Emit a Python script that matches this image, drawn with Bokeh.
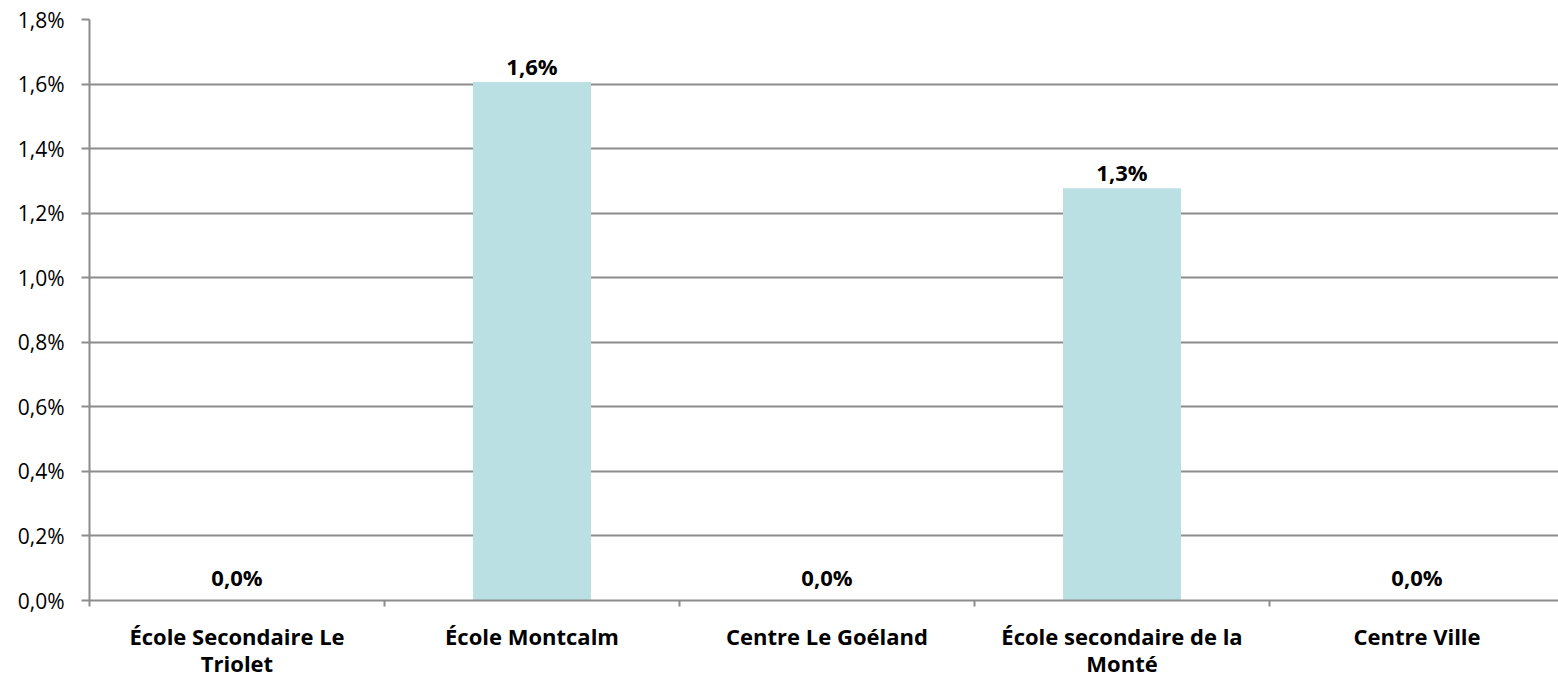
from bokeh.plotting import figure
from bokeh.models import ColumnDataSource, FixedTicker, CustomJSTickFormatter, Range1d, LinearAxis
from bokeh.embed import file_html
from bokeh.resources import INLINE
from bokeh.core.properties import value

categories = ["École Secondaire Le\nTriolet", "École Montcalm", "Centre Le Goéland",
              "École secondaire de la\nMonté", "Centre Ville"]
values_pct = [0.0, 1.606, 0.0, 1.277, 0.0]
y_ticks = [0.0, 0.2, 0.4, 0.6, 0.8, 1.0, 1.2, 1.4, 1.6, 1.8]

FONT = "Open Sans"
GRID = "#8c8c8c"

n = len(categories)
centers = [i + 0.5 for i in range(n)]
labels = [("%.1f" % v).replace(".", ",") + "%" for v in values_pct]

src = ColumnDataSource(dict(x=centers, top=values_pct))
pos = [i for i, v in enumerate(values_pct) if v > 0]
zer = [i for i, v in enumerate(values_pct) if v <= 0]
src_pos = ColumnDataSource(dict(x=[centers[i] for i in pos], y=[values_pct[i] for i in pos],
                                lab=[labels[i] for i in pos]))
src_zer = ColumnDataSource(dict(x=[centers[i] for i in zer], y=[values_pct[i] for i in zer],
                                lab=[labels[i] for i in zer]))

p = figure(frame_width=1469, frame_height=581, output_backend="svg", toolbar_location=None,
           x_range=Range1d(0, 1469 / 295), y_range=Range1d(0, 1.8),
           min_border_left=89, min_border_right=0, min_border_top=19, min_border_bottom=79,
           x_axis_type=None)
p.outline_line_color = None
p.background_fill_color = "white"
p.border_fill_color = "white"

p.vbar(x="x", top="top", width=0.4, source=src, fill_color="#bae0e3", line_color=None)
for s, off in ((src_pos, -1), (src_zer, -9)):
    p.text(x="x", y="y", text="lab", source=s, text_align="center", text_baseline="bottom",
           y_offset=off, text_font=value(FONT), text_font_size="22px", text_font_style="bold",
           text_color="black")

# y axis
p.yaxis.ticker = FixedTicker(ticks=y_ticks)
p.yaxis.formatter = CustomJSTickFormatter(code="return tick.toFixed(1).replace('.', ',') + '%';")
p.yaxis.major_label_text_font = FONT
p.yaxis.major_label_text_font_size = "21px"
p.yaxis.major_label_text_color = "black"
p.yaxis.axis_line_color = GRID
p.yaxis.axis_line_width = 2
p.yaxis.major_tick_line_color = GRID
p.yaxis.major_tick_line_width = 2
p.yaxis.major_tick_out = 8
p.yaxis.major_tick_in = 0
p.yaxis.minor_tick_line_color = None
p.yaxis.major_label_standoff = 17

p.ygrid.grid_line_color = GRID
p.ygrid.grid_line_width = 2
p.xgrid.grid_line_color = None

# x axis
xa = LinearAxis(ticker=FixedTicker(ticks=centers, minor_ticks=list(range(n + 1))))
xa.major_label_overrides = {c: lab for c, lab in zip(centers, categories)}
xa.major_label_text_font = FONT
xa.major_label_text_font_size = "22px"
xa.major_label_text_font_style = "bold"
xa.major_label_text_color = "black"
xa.major_label_text_align = "center"
xa.major_label_text_line_height = 0.92
xa.major_tick_line_color = None
xa.major_tick_out = 0
xa.major_tick_in = 0
xa.minor_tick_line_color = GRID
xa.minor_tick_line_width = 2
xa.minor_tick_out = 6
xa.minor_tick_in = 0
xa.axis_line_color = GRID
xa.axis_line_width = 2
xa.major_label_standoff = 14
p.add_layout(xa, "below")

open("out.html", "w").write(file_html(p, INLINE))
